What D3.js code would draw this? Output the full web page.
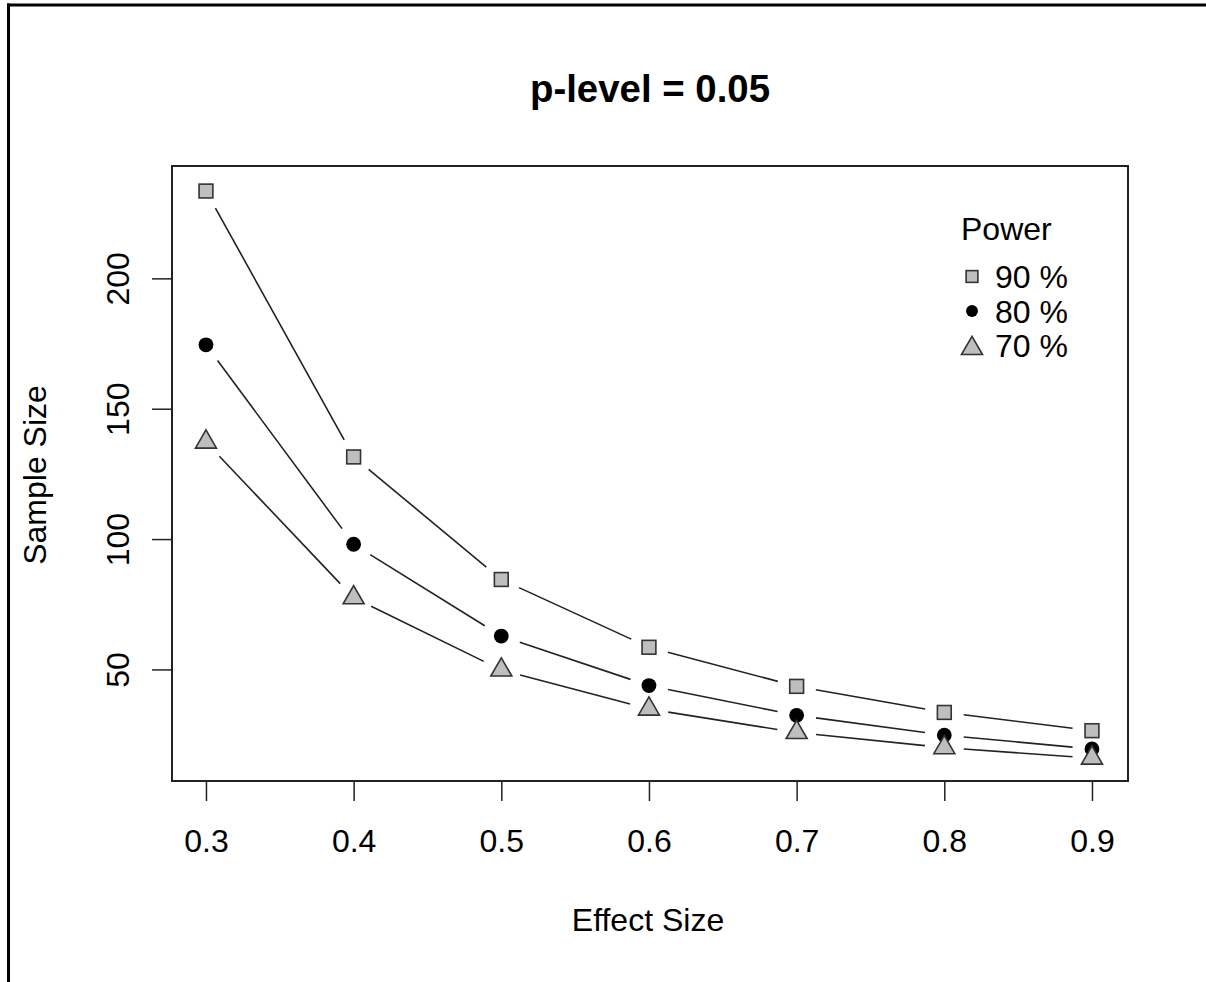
<!DOCTYPE html>
<html>
<head>
<meta charset="utf-8">
<script src="https://cdn.jsdelivr.net/npm/d3@7/dist/d3.min.js"></script>
<style>
  html, body { margin: 0; padding: 0; background: #fff; }
  svg { display: block; }
  text { font-family: "Liberation Sans", Arial, sans-serif; fill: #000; }
</style>
</head>
<body>
<svg id="chart" width="1206" height="982"></svg>
<script>
// ---- data ----
const effectSizes = [0.3, 0.4, 0.5, 0.6, 0.7, 0.8, 0.9];
const power90 = [233.5, 131.5, 84.5, 58.5, 43.5, 33.5, 26.5];
const power80 = [174.5, 98, 62.8, 43.8, 32.4, 24.8, 19.5];
const power70 = [137.2, 77.5, 49.8, 34.8, 25.8, 20, 16];
const seriesNames = ["90 %", "80 %", "70 %"];
const seriesShapes = ["square", "circle", "triangle"];
const xTicks = [0.3, 0.4, 0.5, 0.6, 0.7, 0.8, 0.9];
const yTicks = [50, 100, 150, 200];
const titleText = "p-level = 0.05";
const xLabel = "Effect Size";
const yLabel = "Sample Size";
const legendTitle = "Power";

const series = [
  { name: seriesNames[0], shape: seriesShapes[0], values: power90 },
  { name: seriesNames[1], shape: seriesShapes[1], values: power80 },
  { name: seriesNames[2], shape: seriesShapes[2], values: power70 }
];

const svg = d3.select("#chart");
const W = 1206, H = 982;
const plot = { left: 172, right: 1128, top: 166, bottom: 781 };

// outer frame (left + top edges)
svg.append("line").attr("x1", 8.5).attr("x2", 8.5).attr("y1", 3.5).attr("y2", H)
  .attr("stroke", "#000").attr("stroke-width", 3);
svg.append("line").attr("x1", 7).attr("x2", W).attr("y1", 5).attr("y2", 5)
  .attr("stroke", "#000").attr("stroke-width", 3);

const x = d3.scaleLinear().domain([0.277, 0.9244]).range([plot.left, plot.right]);
const y = d3.scaleLinear().domain([7.2, 243.1]).range([plot.bottom, plot.top]);

// plot box
svg.append("rect")
  .attr("x", plot.left).attr("y", plot.top)
  .attr("width", plot.right - plot.left).attr("height", plot.bottom - plot.top)
  .attr("fill", "none").attr("stroke", "#222").attr("stroke-width", 2);

// axes
const xAxis = svg.append("g").attr("transform", `translate(0,${plot.bottom})`)
  .call(d3.axisBottom(x).tickValues(xTicks).tickSize(20).tickPadding(28)
        .tickFormat(d3.format(".1f")));
xAxis.select(".domain").remove();
xAxis.selectAll("line").attr("stroke", "#222").attr("stroke-width", 1.5);
xAxis.selectAll("text").attr("font-size", 32).attr("fill", "#000")
  .attr("font-family", "Liberation Sans, Arial, sans-serif");

const yAxis = svg.append("g").attr("transform", `translate(${plot.left},0)`)
  .call(d3.axisLeft(y).tickValues(yTicks).tickSize(20).tickFormat(d3.format("d")));
yAxis.select(".domain").remove();
yAxis.selectAll("line").attr("stroke", "#222").attr("stroke-width", 1.5);
yAxis.selectAll("text").remove();
yAxis.selectAll(".tick").append("text")
  .attr("transform", "translate(-43,0) rotate(-90)")
  .attr("text-anchor", "middle")
  .attr("font-size", 32)
  .attr("fill", "#000")
  .attr("font-family", "Liberation Sans, Arial, sans-serif")
  .text(d => d);

// titles
svg.append("text").attr("x", 650).attr("y", 102).attr("text-anchor", "middle")
  .attr("font-size", 38.4).attr("font-weight", "bold").text(titleText);
svg.append("text").attr("x", 648).attr("y", 931).attr("text-anchor", "middle")
  .attr("font-size", 32).text(xLabel);
svg.append("text").attr("transform", "translate(46,475) rotate(-90)")
  .attr("text-anchor", "middle").attr("font-size", 32).text(yLabel);

// symbols
const R = 7.8;
function drawSymbol(g, shape, cx, cy, scale) {
  const r = R * (scale || 1);
  if (shape === "square") {
    const h = r * 0.886;
    g.append("rect").attr("x", cx - h).attr("y", cy - h).attr("width", 2 * h).attr("height", 2 * h)
      .attr("fill", "#bebebe").attr("stroke", "#333").attr("stroke-width", 1.6);
  } else if (shape === "circle") {
    g.append("circle").attr("cx", cx).attr("cy", cy).attr("r", r * 0.95)
      .attr("fill", "#000");
  } else {
    const tr = 1.5551 * r, xc = 1.3468 * r, yc = 0.7776 * r;
    g.append("path")
      .attr("d", `M${cx},${cy - tr}L${cx + xc},${cy + yc}L${cx - xc},${cy + yc}Z`)
      .attr("fill", "#bebebe").attr("stroke", "#333").attr("stroke-width", 1.6)
      .attr("stroke-linejoin", "miter");
  }
}

// lines with gaps (type = "b") and points
const gap = 19.5;
series.forEach(s => {
  const g = svg.append("g");
  const pts = s.values.map((v, i) => [x(effectSizes[i]), y(v)]);
  for (let i = 0; i < pts.length - 1; i++) {
    const [x0, y0] = pts[i], [x1, y1] = pts[i + 1];
    const dx = x1 - x0, dy = y1 - y0, len = Math.hypot(dx, dy);
    if (len <= 2 * gap) continue;
    const ux = dx / len, uy = dy / len;
    g.append("line")
      .attr("x1", x0 + ux * gap).attr("y1", y0 + uy * gap)
      .attr("x2", x1 - ux * gap).attr("y2", y1 - uy * gap)
      .attr("stroke", "#222").attr("stroke-width", 1.6);
  }
  pts.forEach(p => drawSymbol(g, s.shape, p[0], p[1], 1));
});

// legend
const leg = svg.append("g");
leg.append("text").attr("x", 961).attr("y", 240).attr("font-size", 32).text(legendTitle);
series.forEach((s, i) => {
  const cy = 276.5 + i * 34.5;
  const symY = s.shape === "triangle" ? cy + 3 : cy;
  drawSymbol(leg, s.shape, 972, symY, s.shape === "square" ? 0.85 : (s.shape === "circle" ? 0.8 : 1));
  leg.append("text").attr("x", 995).attr("y", cy + 11.5).attr("font-size", 32).text(s.name);
});
</script>
</body>
</html>
